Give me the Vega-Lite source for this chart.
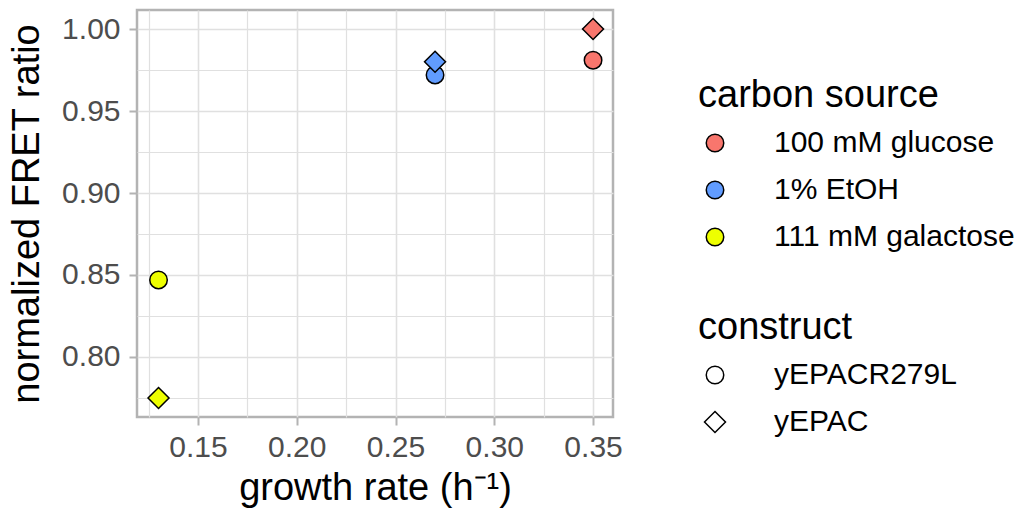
{
  "$schema": "https://vega.github.io/schema/vega-lite/v6.json",
  "width": 476,
  "height": 407,
  "autosize": {"type": "none"},
  "padding": {"left": 137, "top": 10, "right": 409, "bottom": 96},
  "background": "white",
  "config": {
    "font": "Liberation Sans",
    "view": {"stroke": "#B3B3B3", "strokeWidth": 2.5},
    "axis": {
      "domain": false,
      "tickColor": "#B3B3B3",
      "tickWidth": 2,
      "tickSize": 8,
      "labelFontSize": 30,
      "labelColor": "#4D4D4D",
      "labelOverlap": false,
      "labelFlush": false,
      "labelBound": false,
      "titleFontSize": 38,
      "titleFontWeight": "normal",
      "titleColor": "black",
      "gridColor": "#E0E0E0"
    },
    "legend": {
      "orient": "none",
      "padding": 0,
      "titleFontSize": 38,
      "titleFontWeight": "normal",
      "titleColor": "black",
      "titleLimit": 400,
      "labelLimit": 400,
      "labelFontSize": 30,
      "labelColor": "black",
      "symbolStrokeColor": "black",
      "symbolStrokeWidth": 1.5,
      "symbolSize": 306,
      "symbolOffset": 2,
      "labelOffset": 44,
      "rowPadding": 17,
      "titlePadding": 13
    }
  },
  "data": {
    "values": [
      {"growth_rate": 0.35, "fret": 0.981, "carbon_source": "100 mM glucose", "construct": "yEPACR279L"},
      {"growth_rate": 0.27, "fret": 0.972, "carbon_source": "1% EtOH", "construct": "yEPACR279L"},
      {"growth_rate": 0.13, "fret": 0.847, "carbon_source": "111 mM galactose", "construct": "yEPACR279L"},
      {"growth_rate": 0.35, "fret": 1.0, "carbon_source": "100 mM glucose", "construct": "yEPAC"},
      {"growth_rate": 0.27, "fret": 0.98, "carbon_source": "1% EtOH", "construct": "yEPAC"},
      {"growth_rate": 0.13, "fret": 0.775, "carbon_source": "111 mM galactose", "construct": "yEPAC"}
    ]
  },
  "mark": {"type": "point", "filled": true, "stroke": "black", "strokeWidth": 1.5, "opacity": 1, "size": 306},
  "encoding": {
    "x": {
      "field": "growth_rate",
      "type": "quantitative",
      "scale": {"domain": [0.1191, 0.3601], "zero": false, "nice": false},
      "axis": {
        "title": "growth rate (h⁻¹)",
        "values": [0.125, 0.15, 0.175, 0.2, 0.225, 0.25, 0.275, 0.3, 0.325, 0.35],
        "labelExpr": "round(datum.value*1000) % 50 === 0 ? format(datum.value, '.2f') : ''",
        "tickOpacity": {"condition": {"test": "round(datum.value*1000) % 50 !== 0", "value": 0}, "value": 1},
        "gridWidth": {"condition": {"test": "round(datum.value*1000) % 50 !== 0", "value": 1.2}, "value": 1.6},
        "labelPadding": 7,
        "titlePadding": 7
      }
    },
    "y": {
      "field": "fret",
      "type": "quantitative",
      "scale": {"domain": [0.7634, 1.0116], "zero": false, "nice": false},
      "axis": {
        "title": "normalized FRET ratio",
        "values": [0.775, 0.8, 0.825, 0.85, 0.875, 0.9, 0.925, 0.95, 0.975, 1.0],
        "labelExpr": "round(datum.value*1000) % 50 === 0 ? format(datum.value, '.2f') : ''",
        "tickOpacity": {"condition": {"test": "round(datum.value*1000) % 50 !== 0", "value": 0}, "value": 1},
        "gridWidth": {"condition": {"test": "round(datum.value*1000) % 50 !== 0", "value": 1.2}, "value": 1.6},
        "labelPadding": 9,
        "titlePadding": 15
      }
    },
    "fill": {
      "field": "carbon_source",
      "type": "nominal",
      "scale": {"domain": ["100 mM glucose", "1% EtOH", "111 mM galactose"], "range": ["#F8766D", "#619CFF", "#EEFF00"]},
      "legend": {
        "title": "carbon source",
        "legendX": 561,
        "legendY": 67,
        "symbolType": "circle",
        "encode": {"symbols": {"update": {"stroke": {"value": "black"}, "strokeWidth": {"value": 1.5}}}}
      }
    },
    "shape": {
      "field": "construct",
      "type": "nominal",
      "scale": {"domain": ["yEPACR279L", "yEPAC"], "range": ["circle", "M0,-1.2L1.2,0L0,1.2L-1.2,0Z"]},
      "legend": {
        "title": "construct",
        "legendX": 561,
        "legendY": 299,
        "symbolFillColor": "white",
        "symbolStrokeColor": "black",
        "encode": {"symbols": {"enter": {"fill": {"value": "white"}}, "update": {
          "fill": {"value": "white"},
          "stroke": {"value": "black"},
          "strokeWidth": {"value": 1.5}
        }}}
      }
    }
  }
}
